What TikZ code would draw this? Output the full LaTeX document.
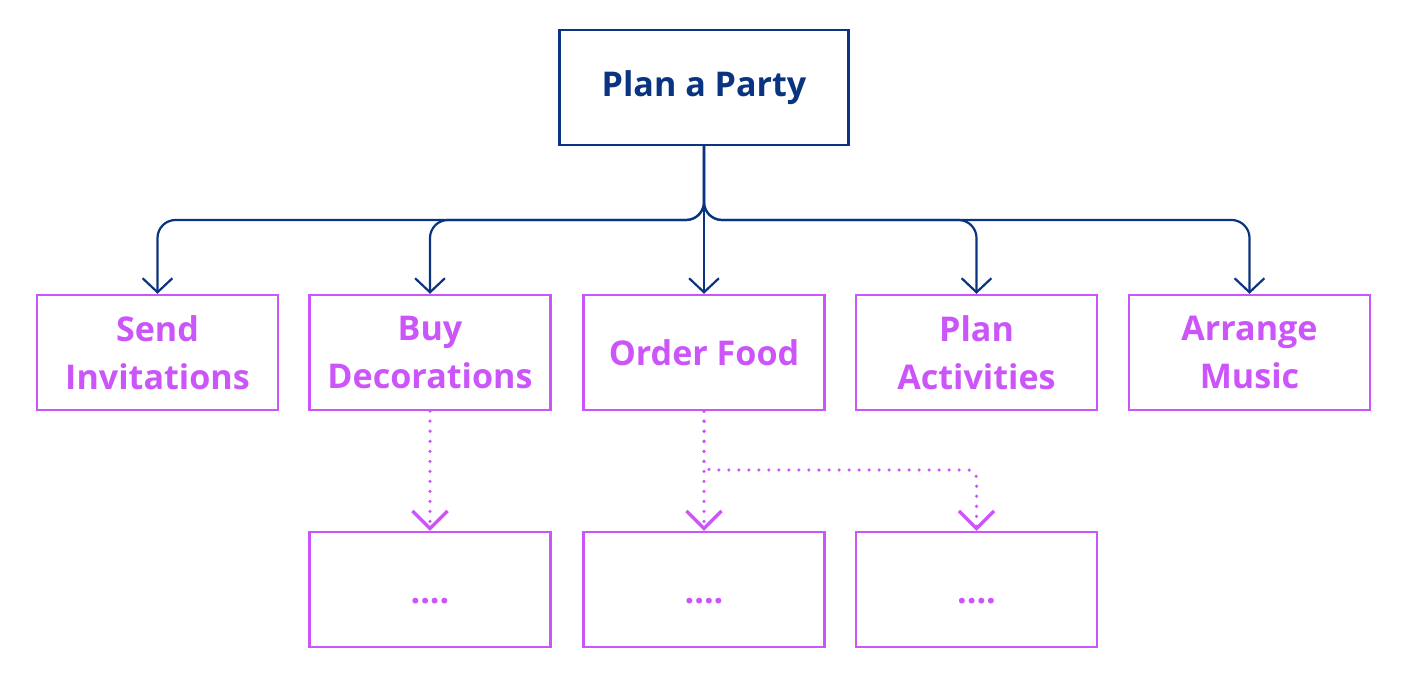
\documentclass[tikz,border=0pt]{standalone}
\usepackage{fontspec}
\setmainfont{Open Sans}
\usetikzlibrary{arrows.meta}
\definecolor{navy}{RGB}{10,52,128}
\definecolor{violetc}{RGB}{204,85,250}
\begin{document}
\begin{tikzpicture}[x=0.02cm,y=-0.02cm,
  rootbox/.style={draw=navy,line width=1.4pt,minimum width=5.78cm,minimum height=2.3cm,inner sep=0pt,align=center,text=navy,font=\fontsize{19.4}{27.3}\selectfont\bfseries},
  box/.style={draw=violetc,line width=1.4pt,minimum width=4.82cm,minimum height=2.3cm,inner sep=0pt,align=center,text=violetc,font=\fontsize{19.4}{27.3}\selectfont\bfseries},
  link/.style={draw=navy,line width=1.25pt,rounded corners=0.36cm,-{Straight Barb[length=8pt,width=17pt,line width=1.25pt]}},
  sublink/.style={draw=violetc,line width=2pt,line cap=round,dash pattern=on 0pt off 5.7pt,rounded corners=0.16cm,-{Straight Barb[length=10pt,width=20pt,line width=1.9pt]}}]
\useasboundingbox (0,0) rectangle (1408,685);
\node[rootbox] (root) at (704,87.5) {\raisebox{-0.04cm}{Plan a Party}};
\node[box] (a) at (157.5,352.5) {Send\\Invitations};
\node[box] (b) at (430,352.5) {Buy\\Decorations};
\node[box] (c) at (704,352.5) {Order Food};
\node[box] (d) at (976.5,352.5) {Plan\\Activities};
\node[box] (e) at (1249.5,352.5) {Arrange\\Music};
\node[box] (f) at (430,589.5) {\strut\raisebox{-0.08cm}{....}};
\node[box] (g) at (704,589.5) {\strut\raisebox{-0.08cm}{....}};
\node[box] (h) at (976.5,589.5) {\strut\raisebox{-0.08cm}{....}};
\coordinate (j) at (704,220);
\foreach \t in {a,b,d,e}{
  \draw[link] (root.south) -- (j) -| (\t.north);
}
\draw[link] (root.south) -- (c.north);
\draw[sublink] (b.south) -- (f.north);
\draw[sublink] (c.south) -- (g.north);
\coordinate (k) at (704,470);
\draw[sublink] (c.south) -- (k) -| (h.north);
\end{tikzpicture}
\end{document}
